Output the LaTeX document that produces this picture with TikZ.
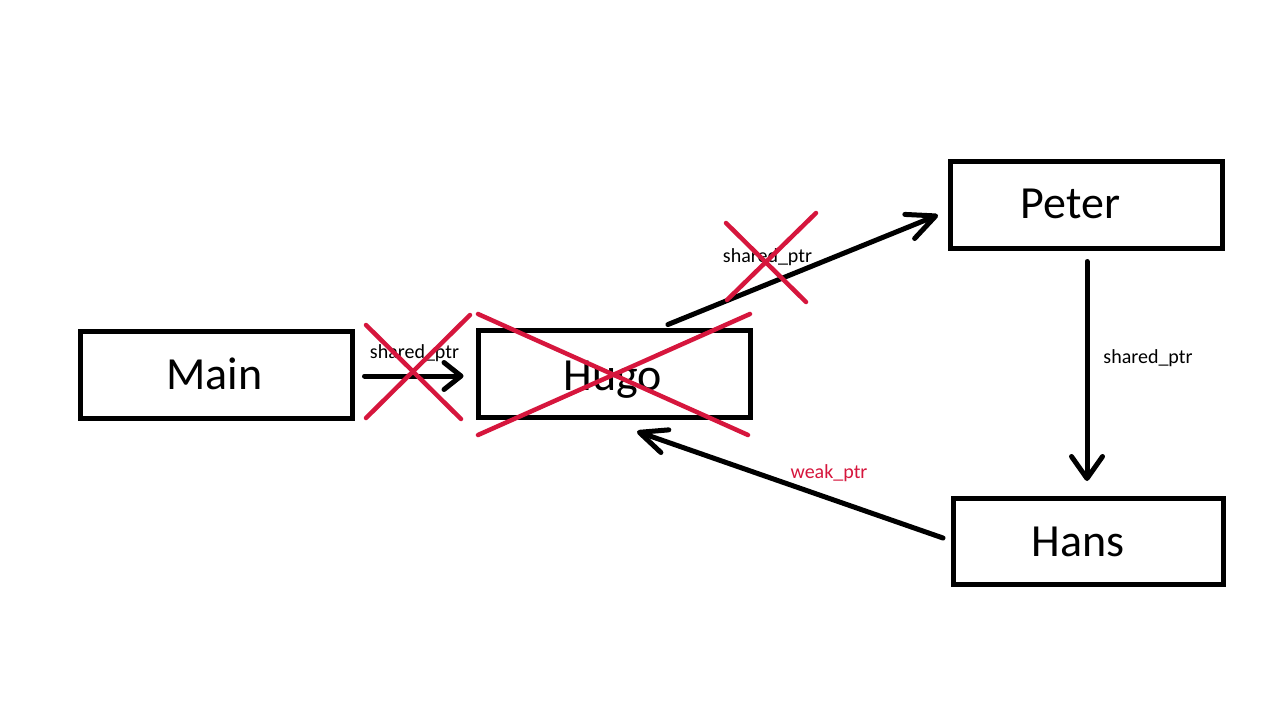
\documentclass[tikz,border=0pt]{standalone}
\usepackage{fontspec}
\setmainfont{Carlito}
\usetikzlibrary{arrows.meta,calc}
\definecolor{xred}{RGB}{214,22,61}
\begin{document}
\begin{tikzpicture}[x=1pt,y=-1pt,
  box/.style={draw=black,line width=5pt,minimum width=272pt,minimum height=87pt,inner sep=0pt},
  bigtext/.style={font=\fontsize{46}{50}\selectfont,anchor=base,inner sep=0pt},
  lbl/.style={font=\fontsize{20}{24}\selectfont,anchor=base,inner sep=0pt},
  conn/.style={draw=black,line width=5pt,line cap=round},
  cross/.style={draw=xred,line width=4.5pt,line cap=round}]
  \fill[white] (0,0) rectangle (1280,720);
  \useasboundingbox (0,0) rectangle (1280,720);

  % boxes
  \node[box] (main)  at (216,374.5) {};
  \node[box] (hugo)  at (614,374)   {};
  \node[box] (peter) at (1086,204.5){};
  \node[box,minimum width=270pt,minimum height=86pt] (hans) at (1088,541) {};

  % box texts
  \node[bigtext] (maint)  at (214.5,389) {Main};
  \node[bigtext] (hugot)  at (613,390)   {Hugo};
  \node[bigtext] (petert) at (1070.5,218){Peter};
  \node[bigtext] (hanst)  at (1078,556)  {Hans};

  % connectors
  \draw[conn,-{Straight Barb[length=17pt,width=27pt,round]}]
    ($(main.east)+(10,1.5)$) -- ($(hugo.west)+(-12,2)$);
  \draw[conn,-{Straight Barb[length=28pt,width=26pt,round]}]
    ($(hugo.north)+(54,-3.5)$) -- ($(peter.west)+(-9.5,10.5)$);
  \draw[conn,-{Straight Barb[length=22pt,width=31pt,round]}]
    ($(peter.south)+(1,11)$) -- ($(hans.north)+(-1,-14.5)$);
  \draw[conn,-{Straight Barb[length=27pt,width=24pt,round]}]
    ($(hans.west)+(-7.5,-3)$) -- ($(hugo.south)+(23,11.5)$);

  % labels
  \node[lbl] (l1) at (414.5,358) {shared\_ptr};
  \node[lbl] (l2) at (767.5,262) {shared\_ptr};
  \node[lbl] (l3) at (1148,363)  {shared\_ptr};
  \node[lbl,text=xred] (l4) at (829,478) {weak\_ptr};

  % red crosses
  \draw[cross] (366,325) -- (461,419);
  \draw[cross] (470,315) -- (366,418);
  \draw[cross] (478,314) -- (748,435);
  \draw[cross] (750,314) -- (478,435);
  \draw[cross] (726,223) -- (806,302);
  \draw[cross] (816,213) -- (727,300);
\end{tikzpicture}
\end{document}
